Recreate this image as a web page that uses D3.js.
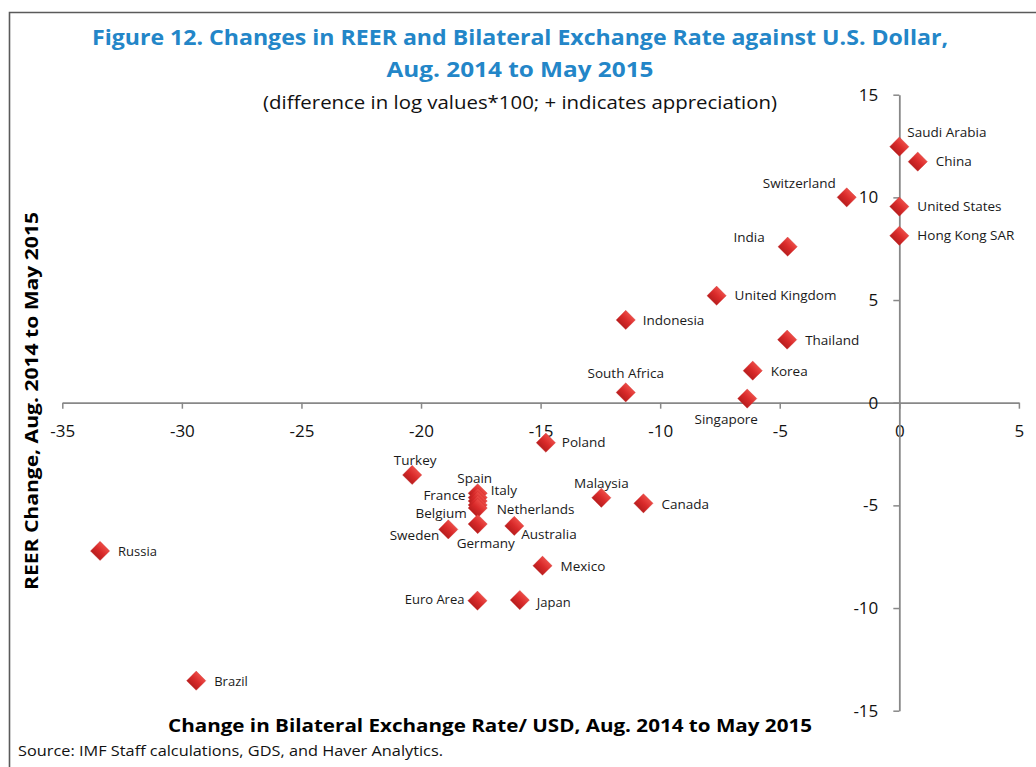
<!DOCTYPE html>
<html>
<head>
<meta charset="utf-8">
<script src="https://cdn.jsdelivr.net/npm/d3@7"></script>
<style>
  html, body { margin: 0; padding: 0; background: #fff; }
  svg { display: block; }
  text { font-family: "Open Sans", "Noto Sans", sans-serif; }
</style>
</head>
<body>
<svg id="chart" width="1036" height="767"></svg>
<script>
// ---- Data ----
const countries = ["Saudi Arabia","China","Switzerland","United States","Hong Kong SAR","India",
  "United Kingdom","Indonesia","Thailand","Korea","South Africa","Singapore","Poland","Turkey",
  "Spain","Italy","France","Netherlands","Belgium","Germany","Sweden","Australia","Malaysia",
  "Canada","Mexico","Euro Area","Japan","Russia","Brazil"];
const bilateralChange = [0, 0.77, -2.2, 0, 0, -4.67, -7.64, -11.44, -4.69, -6.13, -11.44, -6.36,
  -14.78, -20.37, -17.63, -17.63, -17.63, -17.63, -17.63, -17.63, -18.86, -16.1, -12.46,
  -10.7, -14.92, -17.64, -15.87, -33.42, -29.4];
const reerChange = [12.47, 11.74, 10.0, 9.55, 8.13, 7.6, 5.21, 4.03, 3.07, 1.56, 0.5, 0.2,
  -1.95, -3.52, -4.41, -4.62, -4.79, -4.98, -5.13, -5.91, -6.17, -6.0, -4.63,
  -4.9, -7.94, -9.64, -9.61, -7.22, -13.54];
const xTickValues = [-35, -30, -25, -20, -15, -10, -5, 0, 5];
const xTickLabels = ["-35","-30","-25","-20","-15","-10","-5","0","5"];
const yTickValues = [-15, -10, -5, 0, 5, 10, 15];
const yTickLabels = ["-15","-10","-5","0","5","10","15"];

const titleLines = ["Figure 12. Changes in REER and Bilateral Exchange Rate against U.S. Dollar,",
  "Aug. 2014 to May 2015"];
const subtitle = "(difference in log values*100; + indicates appreciation)";
const xTitle = "Change in Bilateral Exchange Rate/ USD, Aug. 2014 to May 2015";
const yTitle = "REER Change, Aug. 2014 to May 2015";
const source = "Source: IMF Staff calculations, GDS, and Haver Analytics.";

// ---- Label placement (style, not data) ----
const labelPlace = {
  "Saudi Arabia": [8, -14, "start"], "China": [18, 0, "start"], "Switzerland": [-11, -14, "end"],
  "United States": [18, 0, "start"], "Hong Kong SAR": [18, 0, "start"], "India": [-23, -9, "end"],
  "United Kingdom": [18, 0, "start"], "Indonesia": [17, 0, "start"], "Thailand": [18, 1, "start"],
  "Korea": [18, 1, "start"], "South Africa": [0, -19, "middle"], "Singapore": [-21, 21, "middle"],
  "Poland": [16, 0, "start"], "Turkey": [3, -15, "middle"], "Spain": [-3, -15, "middle"],
  "Italy": [13, -7, "start"], "France": [-12, -6, "end"], "Netherlands": [19, 4, "start"],
  "Belgium": [-11, 5, "end"], "Germany": [8, 19, "middle"], "Sweden": [-9, 6, "end"],
  "Australia": [7, 8, "start"], "Malaysia": [0, -14, "middle"], "Canada": [18, 1, "start"],
  "Mexico": [18, 1, "start"], "Euro Area": [-13, -1, "end"], "Japan": [17, 2, "start"],
  "Russia": [18, 0, "start"], "Brazil": [18, 1, "start"]
};
const smallLabels = new Set(["Russia","Brazil","Euro Area","Japan"]);

const points = countries.map((c, i) => ({ name: c, x: bilateralChange[i], y: reerChange[i] }));

const svg = d3.select("#chart");

// frame
svg.append("path").attr("d", "M9.5,767 L9.5,12.5 L1036,12.5")
  .attr("fill", "none").attr("stroke", "#5a5a5a").attr("stroke-width", 1.6);

// gradient
const defs = svg.append("defs");
const grad = defs.append("linearGradient").attr("id", "dg")
  .attr("x1", 0).attr("y1", 0).attr("x2", 0).attr("y2", 1);
grad.append("stop").attr("offset", "0%").attr("stop-color", "#EC4B46");
grad.append("stop").attr("offset", "50%").attr("stop-color", "#D92A2A");
grad.append("stop").attr("offset", "100%").attr("stop-color", "#B81E1E");

// scales
const x = d3.scaleLinear().domain([-35, 5]).range([62.3, 1018.9]);
const y = d3.scaleLinear().domain([-15, 15]).range([710.7, 94.7]);

// titles
svg.append("text").attr("x", 520).attr("y", 44.5).attr("text-anchor", "middle")
  .attr("font-size", 22).attr("font-weight", 700).attr("fill", "#2386C8")
  .attr("textLength", 856).attr("lengthAdjust", "spacingAndGlyphs").text(titleLines[0]);
svg.append("text").attr("x", 520).attr("y", 77).attr("text-anchor", "middle")
  .attr("font-size", 22).attr("font-weight", 700).attr("fill", "#2386C8")
  .attr("textLength", 267).attr("lengthAdjust", "spacingAndGlyphs").text(titleLines[1]);
svg.append("text").attr("x", 520).attr("y", 109).attr("text-anchor", "middle")
  .attr("font-size", 18).attr("fill", "#111")
  .attr("textLength", 514).attr("lengthAdjust", "spacingAndGlyphs").text(subtitle);

// axes
const axisColor = "#888";
const gx = svg.append("g").attr("transform", `translate(0,${y(0)})`)
  .call(d3.axisBottom(x).tickValues(xTickValues)
    .tickFormat((d, i) => xTickLabels[i]).tickSize(6).tickSizeOuter(0).tickPadding(16));
const gy = svg.append("g").attr("transform", `translate(${x(0)},0)`)
  .call(d3.axisLeft(y).tickValues(yTickValues)
    .tickFormat((d, i) => yTickLabels[i]).tickSize(6).tickSizeOuter(0).tickPadding(15));
[gx, gy].forEach(g => {
  g.select(".domain").attr("stroke", axisColor).attr("stroke-width", 1.8);
  g.selectAll(".tick line").attr("stroke", axisColor).attr("stroke-width", 1.5);
  g.selectAll(".tick text").attr("font-size", 17).attr("fill", "#111")
    .attr("font-family", "'Open Sans', 'Noto Sans', sans-serif");
});

// axis titles
svg.append("text").attr("x", 490).attr("y", 732).attr("text-anchor", "middle")
  .attr("font-size", 18).attr("font-weight", 700).attr("fill", "#000")
  .attr("textLength", 644).attr("lengthAdjust", "spacingAndGlyphs").text(xTitle);
svg.append("text").attr("transform", "translate(38,401) rotate(-90)").attr("text-anchor", "middle")
  .attr("font-size", 18).attr("font-weight", 700).attr("fill", "#000")
  .attr("textLength", 378).attr("lengthAdjust", "spacingAndGlyphs").text(yTitle);

// source
svg.append("text").attr("x", 18).attr("y", 756).attr("font-size", 14).attr("fill", "#111")
  .attr("textLength", 425).attr("lengthAdjust", "spacingAndGlyphs").text(source);

// markers
const sym = d3.symbol().type(d3.symbolSquare).size(185);
svg.append("g").selectAll("path").data(points).join("path")
  .attr("d", sym)
  .attr("transform", d => `translate(${x(d.x)},${y(d.y)}) rotate(45)`)
  .attr("fill", "url(#dg)")
  .attr("stroke", "#c62626").attr("stroke-opacity", 0.5).attr("stroke-width", 0.6);

// labels
svg.append("g").selectAll("text").data(points).join("text")
  .attr("x", d => x(d.x) + labelPlace[d.name][0])
  .attr("y", d => y(d.y) + labelPlace[d.name][1])
  .attr("dy", "0.35em")
  .attr("text-anchor", d => labelPlace[d.name][2])
  .attr("font-size", d => smallLabels.has(d.name) ? 13 : 13.5)
  .attr("fill", "#1a1a1a")
  .text(d => d.name);
</script>
</body>
</html>
